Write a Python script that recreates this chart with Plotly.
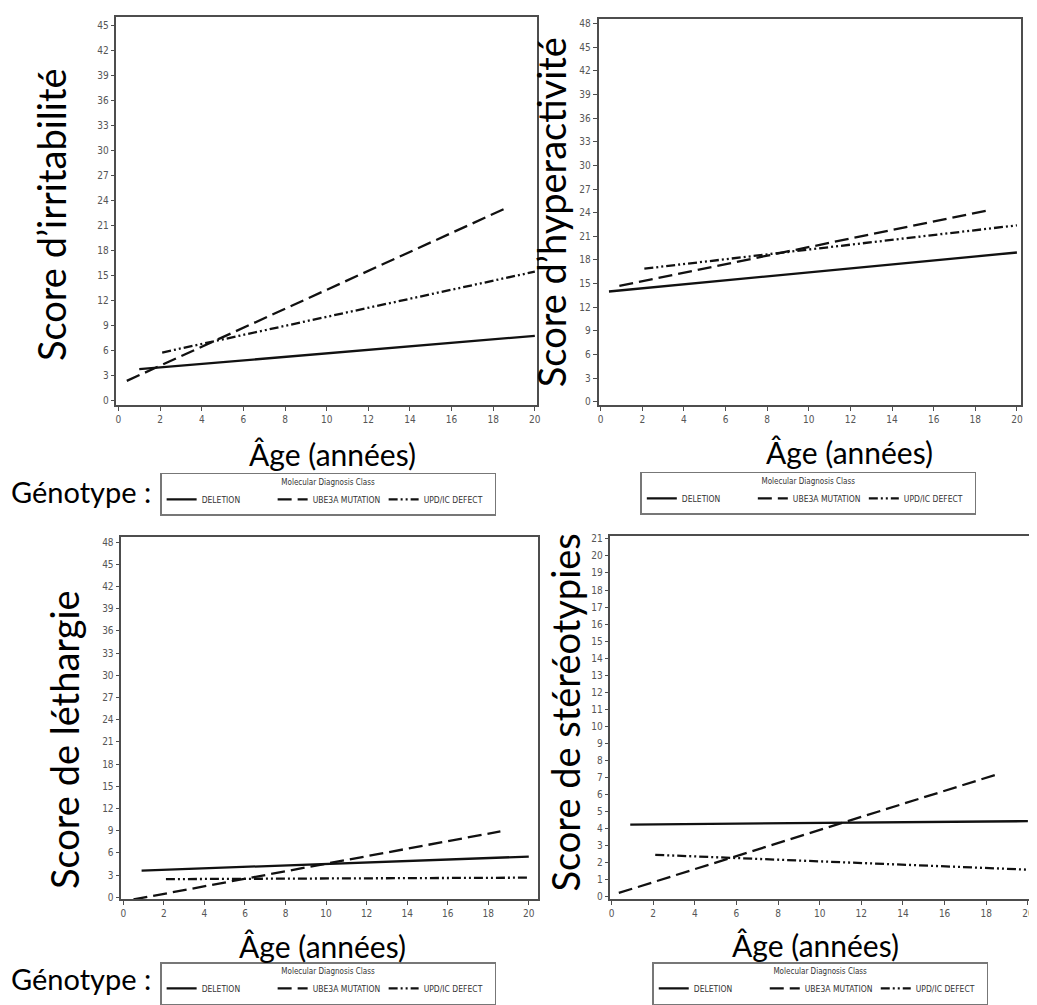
import plotly.graph_objects as go

# ---------------- data ----------------
groups = ["DELETION", "UBE3A MUTATION", "UPD/IC DEFECT"]

# age endpoints of each fitted line (years)
irr_age = {"DELETION": [1.0, 20.0], "UBE3A MUTATION": [0.4, 18.6], "UPD/IC DEFECT": [2.1, 20.0]}
irr_score = {"DELETION": [3.8, 7.8], "UBE3A MUTATION": [2.4, 23.1], "UPD/IC DEFECT": [5.8, 15.5]}

hyp_age = {"DELETION": [0.4, 20.0], "UBE3A MUTATION": [0.9, 18.6], "UPD/IC DEFECT": [2.1, 20.0]}
hyp_score = {"DELETION": [14.0, 18.95], "UBE3A MUTATION": [14.7, 24.3], "UPD/IC DEFECT": [16.9, 22.4]}

let_age = {"DELETION": [0.9, 20.0], "UBE3A MUTATION": [0.5, 18.6], "UPD/IC DEFECT": [2.1, 20.0]}
let_score = {"DELETION": [3.6, 5.5], "UBE3A MUTATION": [-0.3, 8.9], "UPD/IC DEFECT": [2.45, 2.65]}

ste_age = {"DELETION": [0.9, 20.0], "UBE3A MUTATION": [0.35, 18.6], "UPD/IC DEFECT": [2.1, 20.0]}
ste_score = {"DELETION": [4.22, 4.42], "UBE3A MUTATION": [0.2, 7.2], "UPD/IC DEFECT": [2.44, 1.57]}

x_ticks = list(range(0, 21, 2))
y_ticks_48 = list(range(0, 49, 3))
y_ticks_45 = list(range(0, 46, 3))
y_ticks_21 = list(range(0, 22, 1))

y_titles = ["Score d’irritabilité", "Score d’hyperactivité", "Score de léthargie", "Score de stéréotypies"]
x_title = "Âge (années)"
legend_title = "Molecular Diagnosis Class"
genotype_label = "Génotype :"

# ---------------- layout helpers ----------------
PAGE_W, PAGE_H = 1037, 1005
OFF = 8  # default body margin of the html page
W, H = PAGE_W - OFF, PAGE_H - OFF
def px(v):
    return (v - OFF) / W
def py(v):
    return 1 - (v - OFF) / H

dash_styles = {"DELETION": "solid", "UBE3A MUTATION": "14px,6px", "UPD/IC DEFECT": "9px,3px,2px,3px,2px,3px"}

panels = [
    # (ages, scores, xaxis, yaxis, legend, frame px [l, r, top, bottom], x range, y range, y ticks)
    (irr_age, irr_score, "x", "y", "legend", [115, 538, 14, 407], [-0.1, 20.1], [-0.47, 46.05], y_ticks_45),
    (hyp_age, hyp_score, "x2", "y2", "legend2", [600, 1025, 16, 407], [-0.1, 20.2], [-0.38, 48.6], y_ticks_48),
    (let_age, let_score, "x3", "y3", "legend3", [120, 539, 541, 908], [-0.1, 20.45], [-0.27, 48.67], y_ticks_48),
    (ste_age, ste_score, "x4", "y4", "legend4", [612, 1035, 540, 908], [-0.05, 20.15], [-0.17, 21.17], y_ticks_21),
]

fig = go.Figure()
narrow = "Liberation Sans Narrow, Arial Narrow, DejaVu Sans Condensed, Roboto Condensed, sans-serif"
tick_font = dict(family=narrow, size=10, color="#555555")
frame_color = "#4d4d4d"

for i, (ages, scores, xa, ya, lg, frame, xr, yr, yt) in enumerate(panels):
    for g in groups:
        fig.add_trace(go.Scatter(
            x=ages[g], y=scores[g], mode="lines", name=g,
            line=dict(color="#111111", width=2.3, dash=dash_styles[g]),
            xaxis=xa, yaxis=ya, legend=lg, showlegend=True,
        ))
    l, r, t, b = frame
    sfx = "" if i == 0 else str(i + 1)
    fig.layout["xaxis" + sfx] = dict(
        domain=[px(l), px(r)], range=xr, anchor=ya, tickvals=x_ticks,
        showline=True, mirror=True, linecolor=frame_color, linewidth=1.5,
        ticks="outside", ticklen=4, tickcolor=frame_color, tickfont=tick_font,
        ticklabeloverflow="allow",
        showgrid=False, zeroline=False, fixedrange=True,
    )
    fig.layout["yaxis" + sfx] = dict(
        domain=[py(b), py(t)], range=yr, anchor=xa, tickvals=yt,
        showline=True, mirror=True, linecolor=frame_color, linewidth=1.5,
        ticks="outside", ticklen=4, tickcolor=frame_color, tickfont=tick_font,
        ticklabeloverflow="allow",
        showgrid=False, zeroline=False, fixedrange=True,
    )

big = "Lato, Open Sans, sans-serif"
title_font = dict(family=big, size=38, color="#000000")
xt_font = dict(family=big, size=30, color="#000000")
annos = []
# y titles (x center px, y center px)
for txt, (cx, cy) in zip(y_titles, [(50, 214), (553, 212), (63, 746), (566, 719)]):
    annos.append(dict(text=txt, x=px(cx), y=py(cy), xref="paper", yref="paper",
                      xanchor="center", yanchor="middle", textangle=-90, showarrow=False, font=title_font))
for (cx, cy) in [(332, 457), (852, 455), (322, 955), (818, 954)]:
    annos.append(dict(text=x_title, x=px(cx), y=py(cy), xref="paper", yref="paper",
                      xanchor="center", yanchor="middle", showarrow=False, font=xt_font))
for (cx, cy) in [(7, 495), (7, 988)]:
    annos.append(dict(text=genotype_label, x=px(cx), y=py(cy), xref="paper", yref="paper",
                      xanchor="left", yanchor="middle", showarrow=False,
                      font=dict(family=big, size=29, color="#000000")))

leg_font = dict(family=narrow, size=8.5, color="#333333")
def legend_cfg(cx, top):
    return dict(
        x=px(cx), y=py(top), xanchor="center", yanchor="top", orientation="h",
        bordercolor="#777777", borderwidth=1.5, bgcolor="white",
        font=leg_font, title=dict(text=legend_title, side="top center", font=dict(family=narrow, size=8, color="#333333")),
        itemwidth=30, entrywidth=66, tracegroupgap=0, itemclick=False, itemdoubleclick=False,
    )

fig.update_layout(
    width=W, height=H, margin=dict(l=0, r=0, t=0, b=0),
    paper_bgcolor="white", plot_bgcolor="white",
    annotations=annos,
    legend=legend_cfg(328, 476),
    legend2=legend_cfg(811, 475),
    legend3=legend_cfg(328, 972),
    legend4=legend_cfg(823, 972),
)

fig.write_html("out.html")
